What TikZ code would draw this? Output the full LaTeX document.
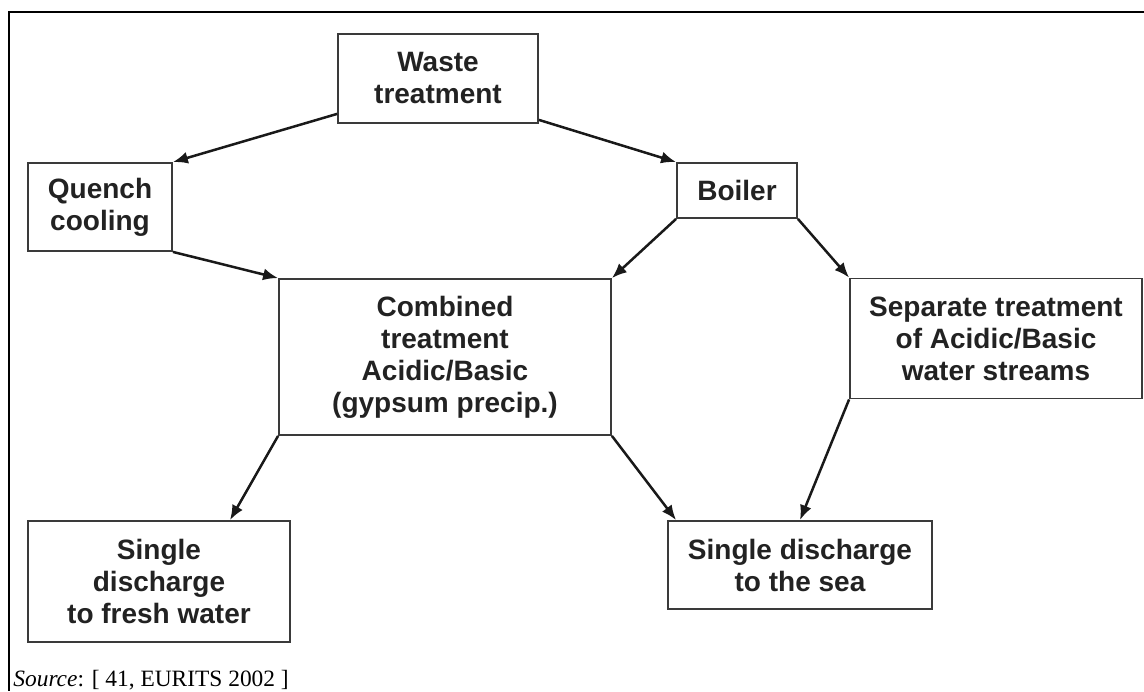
\documentclass[tikz,border=0pt]{standalone}
\usepackage{fontspec}
\setmainfont{Liberation Sans}
\newfontfamily\srcfont{Liberation Serif}
\usepackage{xcolor}
\definecolor{BoxLine}{HTML}{3A3A3A}
\definecolor{BoxText}{HTML}{222222}
\usepackage{tikz}
\usetikzlibrary{arrows.meta, positioning}

\begin{document}
\begin{tikzpicture}[
  x=0.5pt, y=-0.5pt,
  procbox/.style={rectangle, draw=BoxLine, line width=0.9pt, align=center,
                  text=BoxText, inner sep=2pt,
                  font=\fontsize{14}{16}\selectfont\bfseries},
  flow/.style={draw=black!90, line width=1.25pt,
               -{Latex[length=7.5pt,width=6pt]}},
]
\useasboundingbox (0,0) rectangle (1144,691);
% outer frame (top and left only)
\draw[line width=1pt] (1144,12) -- (9,12) -- (9,691);

% boxes
\node[procbox, minimum width=100pt, minimum height=44.5pt] (waste)
  at (438,78.5) {Waste\\treatment};
\node[procbox, minimum width=72pt, minimum height=44pt] (quench)
  at (100,207) {Quench\\cooling};
\node[procbox, minimum width=60pt, minimum height=27.5pt] (boiler)
  at (737,190.5) {Boiler};
\node[procbox, minimum width=166pt, minimum height=78pt] (combined)
  at (445,357) {Combined\\treatment\\Acidic/Basic\\(gypsum precip.)};
\node[procbox, minimum width=146pt, minimum height=60pt] (separate)
  at (996,338.5) {Separate treatment\\of Acidic/Basic\\water streams};
\node[procbox, minimum width=131pt, minimum height=60.5pt] (fresh)
  at (159,581.5) {Single\\discharge\\to fresh water};
\node[procbox, minimum width=132pt, minimum height=44pt] (sea)
  at (800,565) {Single discharge\\to the sea};

% connectors
\draw[flow] ([yshift=5pt]waste.south west) -- (quench.north east);
\draw[flow] ([yshift=2pt]waste.south east) -- (boiler.north west);
\draw[flow] (quench.south east) -- (combined.north west);
\draw[flow] (boiler.south west) -- (combined.north east);
\draw[flow] (boiler.south east) -- (separate.north west);
\draw[flow] (combined.south west) -- ([xshift=35.5pt]fresh.north);
\draw[flow] (combined.south east) -- ([xshift=4.5pt]sea.north west);
\draw[flow] (separate.south west) -- (sea.north);

\node[anchor=base west, inner sep=0pt, font=\srcfont\fontsize{11.7}{14}\selectfont]
  (source) at (13,686) {\textit{Source}: [ 41, EURITS 2002 ]};
\end{tikzpicture}
\end{document}
